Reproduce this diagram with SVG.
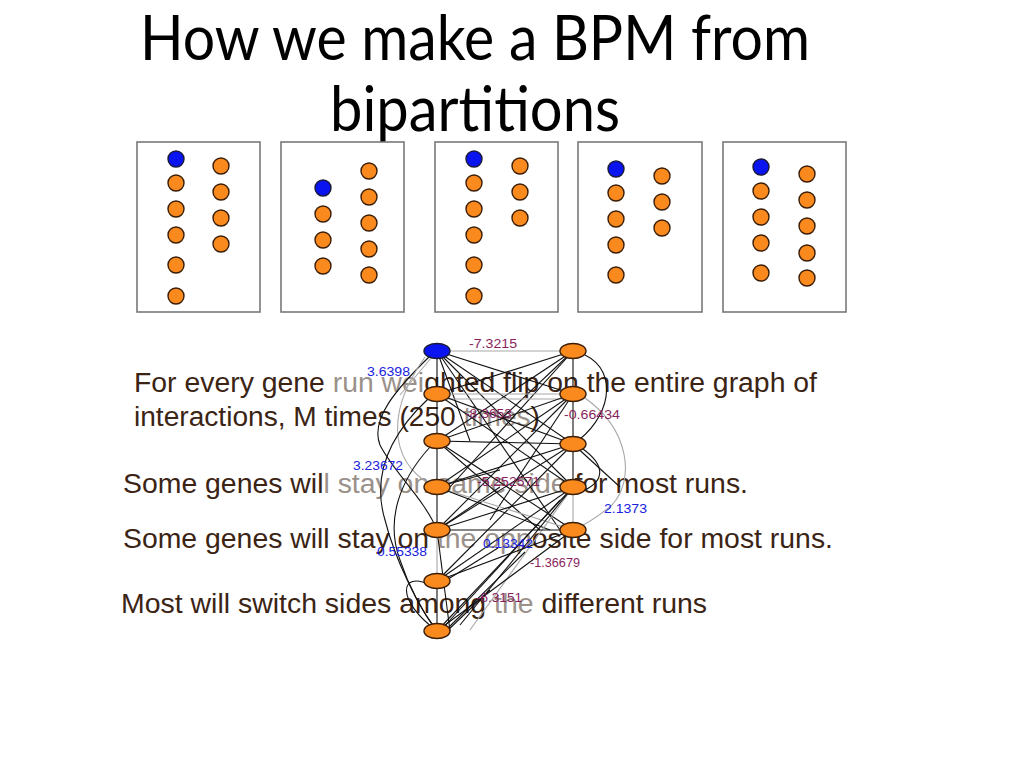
<svg xmlns="http://www.w3.org/2000/svg" width="1024" height="768" viewBox="0 0 1024 768">
<style>
.box{fill:#fff;stroke:#787878;stroke-width:1.6}
.o{fill:#fb8a1e;stroke:#3a1e06;stroke-width:1.4}
.b{fill:#0a14f0;stroke:#1a1a3a;stroke-width:1.4}
.title{font-family:Lato,"Open Sans",sans-serif;font-size:62px;fill:#000}
.body{font-family:"Liberation Sans",Arial,sans-serif;font-size:27px;fill:#3b2414}
.g{fill:#9a918b}
.e{stroke:#111;stroke-width:1.1;fill:none}
.eg{stroke:#a8a8a8;stroke-width:1.1;fill:none}
.lb{font-family:"Liberation Sans",Arial,sans-serif;font-size:12px;fill:#1a22e0}
.lm{font-family:"Liberation Sans",Arial,sans-serif;font-size:12px;fill:#8a1f5e}
</style>
<rect width="1024" height="768" fill="#fff"/>
<g id="title">
<text class="title" x="475" y="60" text-anchor="middle" textLength="670" lengthAdjust="spacingAndGlyphs">How we make a BPM from</text>
<text class="title" x="475" y="131" text-anchor="middle" textLength="290" lengthAdjust="spacingAndGlyphs">bipartitions</text>
</g>
<g id="partition1">
<rect class="box" x="137" y="142" width="123" height="170"/>
<circle class="b" cx="176" cy="159" r="8"/>
<circle class="o" cx="176" cy="183" r="8"/><circle class="o" cx="176" cy="209" r="8"/><circle class="o" cx="176" cy="235" r="8"/><circle class="o" cx="176" cy="265" r="8"/><circle class="o" cx="176" cy="296" r="8"/>
<circle class="o" cx="221" cy="166" r="8"/><circle class="o" cx="221" cy="192" r="8"/><circle class="o" cx="221" cy="218" r="8"/><circle class="o" cx="221" cy="244" r="8"/>
</g>
<g id="partition2">
<rect class="box" x="281" y="142" width="123" height="170"/>
<circle class="b" cx="323" cy="188" r="8"/>
<circle class="o" cx="323" cy="214" r="8"/><circle class="o" cx="323" cy="240" r="8"/><circle class="o" cx="323" cy="266" r="8"/>
<circle class="o" cx="369" cy="171" r="8"/><circle class="o" cx="369" cy="197" r="8"/><circle class="o" cx="369" cy="223" r="8"/><circle class="o" cx="369" cy="249" r="8"/><circle class="o" cx="369" cy="275" r="8"/>
</g>
<g id="partition3">
<rect class="box" x="435" y="142" width="123" height="170"/>
<circle class="b" cx="474" cy="159" r="8"/>
<circle class="o" cx="474" cy="183" r="8"/><circle class="o" cx="474" cy="209" r="8"/><circle class="o" cx="474" cy="235" r="8"/><circle class="o" cx="474" cy="265" r="8"/><circle class="o" cx="474" cy="296" r="8"/>
<circle class="o" cx="520" cy="166" r="8"/><circle class="o" cx="520" cy="192" r="8"/><circle class="o" cx="520" cy="218" r="8"/>
</g>
<g id="partition4">
<rect class="box" x="578" y="142" width="124" height="170"/>
<circle class="b" cx="616" cy="169" r="8"/>
<circle class="o" cx="616" cy="193" r="8"/><circle class="o" cx="616" cy="219" r="8"/><circle class="o" cx="616" cy="245" r="8"/><circle class="o" cx="616" cy="275" r="8"/>
<circle class="o" cx="662" cy="176" r="8"/><circle class="o" cx="662" cy="202" r="8"/><circle class="o" cx="662" cy="228" r="8"/>
</g>
<g id="partition5">
<rect class="box" x="723" y="142" width="123" height="170"/>
<circle class="b" cx="761" cy="167" r="8"/>
<circle class="o" cx="761" cy="191" r="8"/><circle class="o" cx="761" cy="217" r="8"/><circle class="o" cx="761" cy="243" r="8"/><circle class="o" cx="761" cy="273" r="8"/>
<circle class="o" cx="807" cy="174" r="8"/><circle class="o" cx="807" cy="200" r="8"/><circle class="o" cx="807" cy="226" r="8"/><circle class="o" cx="807" cy="253" r="8"/><circle class="o" cx="807" cy="278" r="8"/>
</g>
<g id="text">
<text class="body" x="134" y="392" textLength="683" lengthAdjust="spacingAndGlyphs">For every gene <tspan class="g">run wei</tspan>ghted flip on the entire graph of</text>
<text class="body" x="134" y="426" textLength="406" lengthAdjust="spacingAndGlyphs">interactions, M times (250 <tspan class="g">times</tspan>)</text>
<text class="body" x="123" y="493" textLength="625" lengthAdjust="spacingAndGlyphs">Some genes wil<tspan class="g">l stay on same side</tspan> for most runs.</text>
<text class="body" x="123" y="548" textLength="710" lengthAdjust="spacingAndGlyphs">Some genes will stay on <tspan class="g">the opp</tspan>osite side for most runs.</text>
<text class="body" x="121" y="613" textLength="586" lengthAdjust="spacingAndGlyphs">Most will switch sides among <tspan class="g">the</tspan> different runs</text>
</g>
<g id="connectors">
<line class="eg" x1="437" y1="351" x2="573" y2="351"/>
<line class="e" x1="437" y1="351" x2="573" y2="394"/>
<line class="e" x1="437" y1="351" x2="573" y2="444"/>
<line class="e" x1="437" y1="351" x2="573" y2="487"/>
<line class="e" x1="437" y1="351" x2="560" y2="530"/>
<line class="e" x1="437" y1="351" x2="437" y2="394"/>
<line class="e" x1="437" y1="351" x2="470" y2="441"/>
<line class="eg" x1="437" y1="351" x2="400" y2="395"/>
<path class="e" d="M430,356 C395,390 370,420 380,445 C392,470 425,500 437,530"/>
<path class="eg" d="M425,357 C380,420 395,470 437,487"/>
<line class="e" x1="573" y1="351" x2="437" y2="394"/>
<line class="e" x1="573" y1="351" x2="437" y2="441"/>
<line class="e" x1="573" y1="351" x2="450" y2="487"/>
<line class="e" x1="573" y1="351" x2="500" y2="420"/>
<line class="e" x1="573" y1="351" x2="573" y2="394"/>
<path class="e" d="M585,355 C620,372 610,420 573,444"/>
<line class="eg" x1="437" y1="394" x2="573" y2="394"/>
<line class="eg" x1="437" y1="399" x2="573" y2="399"/>
<line class="e" x1="437" y1="394" x2="573" y2="444"/>
<line class="e" x1="437" y1="394" x2="573" y2="487"/>
<line class="e" x1="437" y1="394" x2="437" y2="441"/>
<path class="e" d="M428,399 C395,430 370,470 385,520 C395,560 420,610 437,631"/>
<line class="e" x1="573" y1="394" x2="437" y2="441"/>
<line class="e" x1="573" y1="394" x2="437" y2="487"/>
<line class="e" x1="573" y1="394" x2="437" y2="530"/>
<line class="e" x1="573" y1="394" x2="490" y2="520"/>
<line class="e" x1="573" y1="394" x2="573" y2="444"/>
<path class="eg" d="M585,398 C630,430 635,480 612,505 C600,515 585,525 573,530"/>
<line class="e" x1="437" y1="441" x2="573" y2="444"/>
<line class="e" x1="437" y1="441" x2="437" y2="487"/>
<line class="e" x1="437" y1="441" x2="573" y2="530"/>
<line class="e" x1="437" y1="441" x2="540" y2="530"/>
<path class="e" d="M430,447 C400,480 385,520 400,560 C410,590 425,615 437,631"/>
<line class="e" x1="573" y1="444" x2="437" y2="487"/>
<line class="e" x1="573" y1="444" x2="437" y2="530"/>
<line class="e" x1="573" y1="444" x2="437" y2="581"/>
<line class="e" x1="573" y1="444" x2="573" y2="487"/>
<line class="e" x1="573" y1="444" x2="620" y2="487"/>
<path class="e" d="M583,449 C605,465 605,480 585,490"/>
<line class="e" x1="437" y1="487" x2="437" y2="530"/>
<line class="eg" x1="437" y1="487" x2="573" y2="530"/>
<line class="e" x1="437" y1="487" x2="550" y2="530"/>
<line class="e" x1="437" y1="487" x2="500" y2="470"/>
<line class="e" x1="573" y1="487" x2="437" y2="530"/>
<line class="e" x1="573" y1="487" x2="437" y2="581"/>
<line class="e" x1="573" y1="487" x2="437" y2="631"/>
<line class="eg" x1="573" y1="487" x2="573" y2="530"/>
<line class="eg" x1="573" y1="487" x2="470" y2="630"/>
<line class="e" x1="573" y1="487" x2="460" y2="625"/>
<line class="e" x1="437" y1="530" x2="573" y2="530"/>
<line class="eg" x1="437" y1="530" x2="437" y2="581"/>
<line class="e" x1="437" y1="530" x2="450" y2="631"/>
<line class="e" x1="437" y1="530" x2="500" y2="487"/>
<line class="e" x1="573" y1="530" x2="437" y2="581"/>
<line class="e" x1="573" y1="530" x2="437" y2="631"/>
<line class="e" x1="560" y1="500" x2="440" y2="631"/>
<line class="e" x1="437" y1="581" x2="437" y2="631"/>
<line class="e" x1="445" y1="581" x2="498" y2="548"/>
<line class="e" x1="445" y1="631" x2="525" y2="552"/>
<line class="e" x1="447" y1="631" x2="490" y2="590"/>
<path class="e" d="M430,585 C400,570 395,600 437,631"/>
</g>
<g id="labels">
<text class="lm" x="469" y="348" textLength="48" lengthAdjust="spacingAndGlyphs">-7.3215</text>
<text class="lb" x="367" y="376" textLength="43" lengthAdjust="spacingAndGlyphs">3.6398</text>
<text class="lm" x="465" y="418" textLength="47" lengthAdjust="spacingAndGlyphs">-8.3653</text>
<text class="lm" x="564" y="419" textLength="56" lengthAdjust="spacingAndGlyphs">-0.66434</text>
<text class="lb" x="353" y="470" textLength="50" lengthAdjust="spacingAndGlyphs">3.23672</text>
<text class="lm" x="477" y="486" textLength="63" lengthAdjust="spacingAndGlyphs">-5.252571</text>
<text class="lb" x="604" y="513" textLength="43" lengthAdjust="spacingAndGlyphs">2.1373</text>
<text class="lb" x="483" y="548" textLength="50" lengthAdjust="spacingAndGlyphs">0.13342</text>
<text class="lb" x="377" y="556" textLength="50" lengthAdjust="spacingAndGlyphs">0.55338</text>
<text class="lm" x="530" y="567" textLength="50" lengthAdjust="spacingAndGlyphs">-1.36679</text>
<text class="lm" x="476" y="602" textLength="46" lengthAdjust="spacingAndGlyphs">-6.3151</text>
</g>
<g id="nodes">
<g id="n-l0"><ellipse class="b" cx="437" cy="351" rx="13" ry="7.5"/></g>
<g id="n-l1"><ellipse class="o" cx="437" cy="394" rx="13" ry="7.5"/></g>
<g id="n-l2"><ellipse class="o" cx="437" cy="441" rx="13" ry="7.5"/></g>
<g id="n-l3"><ellipse class="o" cx="437" cy="487" rx="13" ry="7.5"/></g>
<g id="n-l4"><ellipse class="o" cx="437" cy="530" rx="13" ry="7.5"/></g>
<g id="n-l5"><ellipse class="o" cx="437" cy="581" rx="13" ry="7.5"/></g>
<g id="n-l6"><ellipse class="o" cx="437" cy="631" rx="13" ry="7.5"/></g>
<g id="n-r0"><ellipse class="o" cx="573" cy="351" rx="13" ry="7.5"/></g>
<g id="n-r1"><ellipse class="o" cx="573" cy="394" rx="13" ry="7.5"/></g>
<g id="n-r2"><ellipse class="o" cx="573" cy="444" rx="13" ry="7.5"/></g>
<g id="n-r3"><ellipse class="o" cx="573" cy="487" rx="13" ry="7.5"/></g>
<g id="n-r4"><ellipse class="o" cx="573" cy="530" rx="13" ry="7.5"/></g>
</g>
</svg>
